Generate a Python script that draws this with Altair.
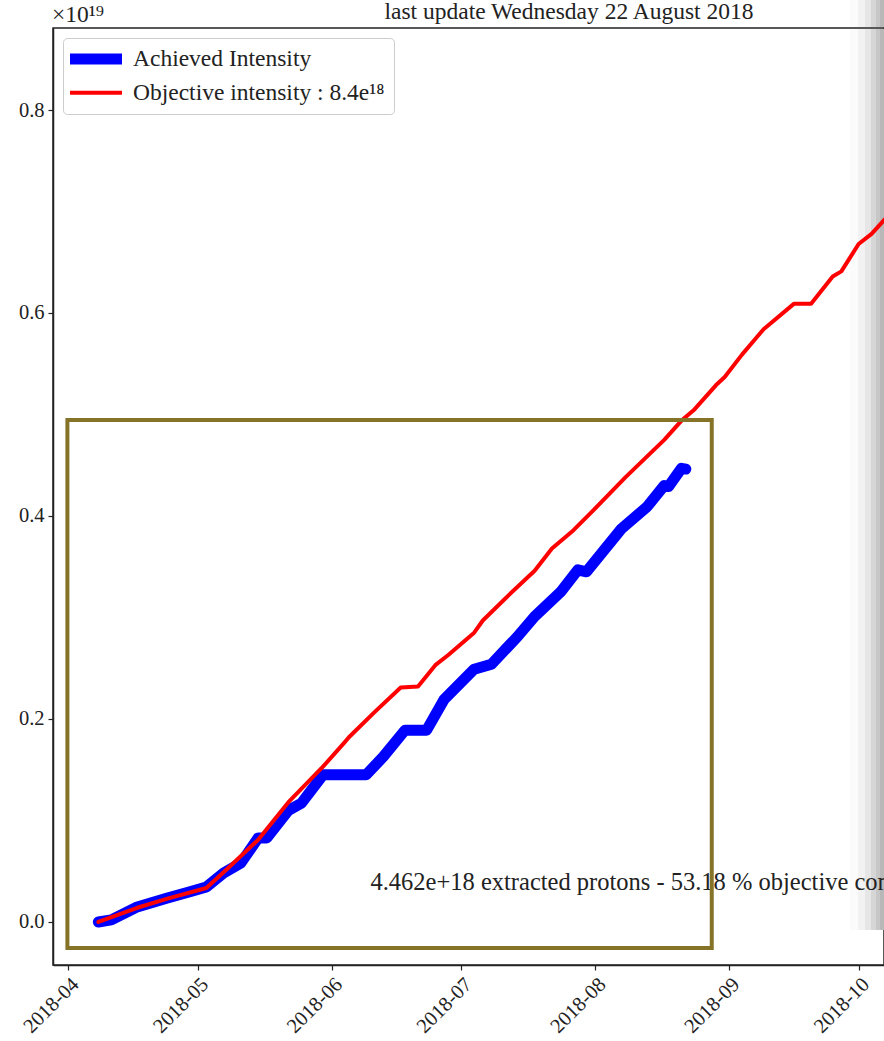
import altair as alt
import pandas as pd

FONT = "Liberation Serif"
FS = 23.5
TICK_FS = 20.5

# Achieved intensity (units of 1e19 protons)
ach_dates = ["2018-04-08", "2018-04-11", "2018-04-17", "2018-04-24", "2018-04-29",
             "2018-05-03", "2018-05-07", "2018-05-11", "2018-05-15", "2018-05-17",
             "2018-05-22", "2018-05-25", "2018-05-30", "2018-06-09", "2018-06-13",
             "2018-06-18", "2018-06-23", "2018-06-27", "2018-07-04", "2018-07-08",
             "2018-07-12", "2018-07-14", "2018-07-18", "2018-07-24", "2018-07-28",
             "2018-07-30", "2018-08-07", "2018-08-13", "2018-08-17", "2018-08-18",
             "2018-08-21", "2018-08-22"]
ach_vals = [0.0, 0.002, 0.0148, 0.0236, 0.0296,
            0.0345, 0.0483, 0.0581, 0.0828, 0.0828,
            0.110, 0.117, 0.145, 0.145, 0.163,
            0.189, 0.189, 0.219, 0.249, 0.254,
            0.272, 0.281, 0.301, 0.325, 0.347,
            0.345, 0.387, 0.409, 0.430, 0.429,
            0.447, 0.4462]

# Objective intensity
obj_dates = ["2018-04-08", "2018-04-17", "2018-04-24", "2018-05-03", "2018-05-08",
             "2018-05-15", "2018-05-22", "2018-05-30", "2018-06-04", "2018-06-05",
             "2018-06-11", "2018-06-17", "2018-06-21", "2018-06-25", "2018-06-28",
             "2018-07-04", "2018-07-06", "2018-07-12", "2018-07-18", "2018-07-22",
             "2018-07-27", "2018-07-31", "2018-08-08", "2018-08-17", "2018-08-21",
             "2018-08-24", "2018-08-29", "2018-08-31", "2018-09-04", "2018-09-09",
             "2018-09-16", "2018-09-20", "2018-09-25", "2018-09-27", "2018-10-01",
             "2018-10-04", "2018-10-07"]
obj_vals = [0.0, 0.014, 0.023, 0.0335, 0.053,
            0.081, 0.118, 0.153, 0.177, 0.182,
            0.207, 0.231, 0.232, 0.253, 0.263,
            0.285, 0.297, 0.322, 0.346, 0.368,
            0.386, 0.403, 0.438, 0.475, 0.494,
            0.505, 0.529, 0.537, 0.559, 0.584,
            0.609, 0.609, 0.636, 0.641, 0.668,
            0.678, 0.692]

series_names = ["Achieved Intensity", "Objective intensity : 8.4e\u00b9\u2078"]
series_colors = ["#0000ff", "#ff0000"]
series_widths = [11, 4]

box = {"x": ["2018-03-31T20:00:00Z"], "x2": ["2018-08-28T00:00:00Z"],
       "y": [0.4946], "y2": [-0.0256]}
note_text = ["4.462e+18 extracted protons - 53.18 % objective completed"]
note_date = ["2018-06-10"]
note_val = [0.038]
title_text = ["last update Wednesday 22 August 2018"]
expo_text = ["\u00d710\u00b9\u2079"]

month_ticks = [alt.DateTime(year=2018, month=m, date=1, utc=True) for m in range(4, 11)]

ach = pd.DataFrame({"date": ach_dates, "value": ach_vals, "series": series_names[0]})
obj = pd.DataFrame({"date": obj_dates, "value": obj_vals, "series": series_names[1]})

xscale = alt.Scale(type="utc",
                   domain=[alt.DateTime(year=2018, month=3, date=28, hours=12, utc=True),
                           alt.DateTime(year=2018, month=10, date=6, hours=21, utc=True)])
yscale = alt.Scale(domain=[-0.0424, 0.8808], nice=False, zero=False)

xaxis = alt.Axis(values=month_ticks, labelExpr="utcFormat(datum.value, '%Y-%m')", title=None,
                 labelAngle=315, labelAlign="right", labelBaseline="top",
                 labelPadding=4, tickSize=5, grid=False, labelFlush=False,
                 labelOverlap=False)
yaxis = alt.Axis(values=[0, 0.2, 0.4, 0.6, 0.8], format=".1f", title=None,
                 tickSize=5, labelPadding=4, grid=False)

color = alt.Color("series:N", scale=alt.Scale(domain=series_names, range=series_colors),
                  legend=alt.Legend(title=None, orient="none", legendX=10, legendY=10,
                                    symbolType="M-4,0H4", symbolSize=169, symbolOffset=12,
                                    labelFont=FONT, labelFontSize=FS, labelColor="#222",
                                    labelLimit=0,
                                    fillColor="white", strokeColor="#cccccc",
                                    cornerRadius=4, padding=9, rowPadding=-2,
                                    labelOffset=25))
swidth = alt.StrokeWidth("series:N", scale=alt.Scale(domain=series_names, range=series_widths),
                         legend=None)

shade_df = pd.DataFrame({"a": [0]})
shade_layers = []
for x0, x1, c in [(797, 805, "#fbfbfb"), (805, 812, "#f2f2f2"), (812, 818, "#e6e6e6"),
                  (818, 823, "#d6d6d6"), (823, 827, "#c7c7c7"), (827, 831, "#b8b8b8")]:
    for y0, y1 in [(-28, -1), (1, 902)]:
        shade_layers.append(alt.Chart(shade_df).mark_rect(color=c).encode(
            x=alt.value(x0), x2=alt.value(x1), y=alt.value(y0), y2=alt.value(y1)))

line_ach = alt.Chart(ach).mark_line(strokeCap="round", strokeJoin="round", clip=True).encode(
    x=alt.X("date:T", scale=xscale, axis=xaxis),
    y=alt.Y("value:Q", scale=yscale, axis=yaxis),
    color=color, strokeWidth=swidth)
line_obj = alt.Chart(obj).mark_line(strokeCap="round", strokeJoin="round", clip=True).encode(
    x="date:T", y="value:Q", color=color, strokeWidth=swidth)

rect = alt.Chart(pd.DataFrame(box)).mark_rect(filled=False, stroke="#857328", strokeWidth=4).encode(
    x="x:T", x2="x2:T", y="y:Q", y2="y2:Q")

note = alt.Chart(pd.DataFrame({"t": note_text, "d": note_date, "v": note_val})).mark_text(
    align="left", baseline="middle", font=FONT, fontSize=24.5, color="#222").encode(
    x="d:T", y="v:Q", text="t:N")

expo = alt.Chart(pd.DataFrame({"t": expo_text})).mark_text(
    align="left", baseline="alphabetic", font=FONT, fontSize=FS, color="#222").encode(
    x=alt.value(-1), y=alt.value(-6), text="t:N")

title = alt.Chart(pd.DataFrame({"t": title_text})).mark_text(
    align="center", baseline="alphabetic", font=FONT, fontSize=FS, color="#222").encode(
    x=alt.value(516), y=alt.value(-9), text="t:N")

chart = alt.layer(*shade_layers, line_ach, line_obj, note, rect, expo, title).properties(
    width=831, height=937,
    background="white",
    autosize=alt.AutoSizeParams(type="none"),
    padding={"left": 53, "top": 28, "right": 0, "bottom": 76},
).configure_axis(
    labelFont=FONT, labelFontSize=TICK_FS, labelColor="#222", domainColor="#222",
    tickColor="#222", domainWidth=1.5, tickWidth=1.2
).configure_view(stroke="#222", strokeWidth=1.5)

chart.save("out.html", embed_options={"renderer": "svg", "actions": False})
